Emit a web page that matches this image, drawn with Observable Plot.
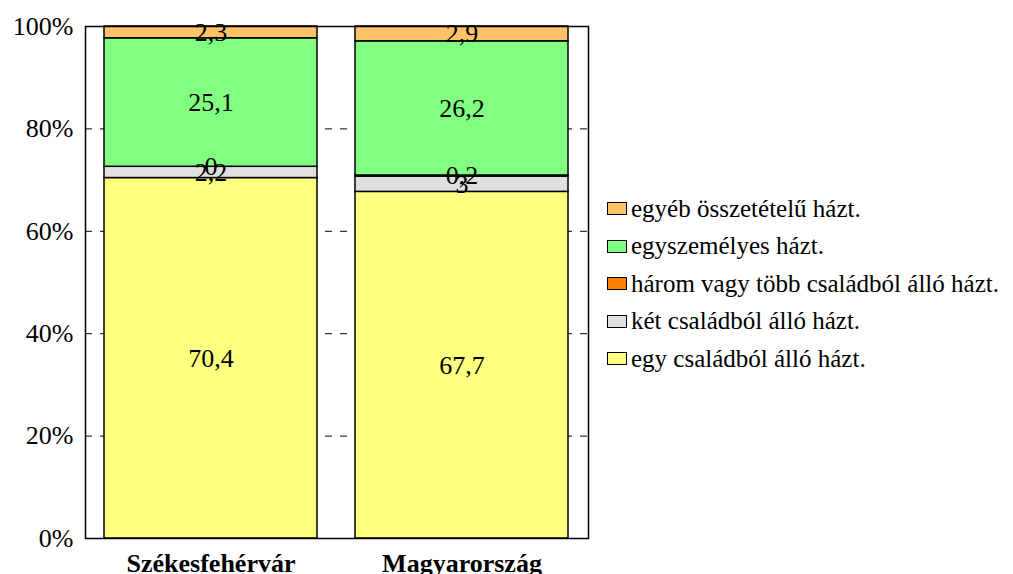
<!DOCTYPE html>
<html>
<head>
<meta charset="utf-8">
<script src="https://cdn.jsdelivr.net/npm/d3@7"></script>
<script src="https://cdn.jsdelivr.net/npm/@observablehq/plot@0.6"></script>
<style>
  body { margin: 0; background: #fff; }
  #wrap { position: relative; width: 1013px; height: 574px; overflow: hidden; font-family: "Liberation Serif", Tinos, "Times New Roman", Times, "DejaVu Serif", serif; }
  #wrap svg text { font-family: "Liberation Serif", Tinos, "Times New Roman", Times, "DejaVu Serif", serif; }
  #legend { position: absolute; left: 607px; top: 190px; font-size: 25px; color: #000; }
  .row { height: 37.5px; display: flex; align-items: center; white-space: nowrap; }
  .sw { width: 20px; height: 13px; border: 1px solid #000; box-sizing: border-box; margin-right: 4px; }
</style>
</head>
<body>
<div id="wrap"><div id="legend"></div></div>
<script>
const categories = ["Székesfehérvár", "Magyarország"];
const series = [
  "egy családból álló házt.",
  "két családból álló házt.",
  "három vagy több családból álló házt.",
  "egyszemélyes házt.",
  "egyéb összetételű házt."
];
const szekesfehervarValues = [70.4, 2.2, 0, 25.1, 2.3];
const magyarorszagValues = [67.7, 3, 0.2, 26.2, 2.9];
const seriesColors = ["#FFFF80", "#E0E0E0", "#FF8000", "#80FF80", "#FFC266"];
const yTicks = [0, 20, 40, 60, 80, 100];
const gridTicks = [20, 40, 60, 80];

const valuesByCategory = [szekesfehervarValues, magyarorszagValues];
const data = [];
categories.forEach((c, i) => {
  series.forEach((s, j) => {
    data.push({category: c, series: s, value: valuesByCategory[i][j]});
  });
});
const fmt = v => String(v).replace(".", ",");
const serif = '"Liberation Serif", Tinos, "Times New Roman", Times, "DejaVu Serif", serif';

const chart = Plot.plot({
  width: 1013,
  height: 574,
  marginLeft: 85,
  marginRight: 425,
  marginTop: 26,
  marginBottom: 36,
  style: {fontFamily: serif, fontSize: "26px", color: "#000", background: "transparent"},
  x: {domain: categories, paddingInner: 0.151, paddingOuter: 0.076, label: null},
  y: {domain: [0, 100], label: null},
  color: {domain: series, range: seriesColors},
  marks: [
    Plot.ruleY(gridTicks, {stroke: "#000", strokeWidth: 1, strokeDasharray: "7,8"}),
    Plot.barY(data, Plot.stackY({x: "category", y: "value", z: "series", fill: "series", order: series, stroke: "#000", strokeWidth: 1.5, inset: 0})),
    Plot.text(data, Plot.stackY({x: "category", y: "value", z: "series", order: series, text: d => fmt(d.value), fill: "#000", fontSize: 26, fontFamily: serif})),
    Plot.frame({stroke: "#000", strokeWidth: 1.5}),
    Plot.axisY({ticks: yTicks, tickFormat: d => d + "%", tickSize: 0, tickPadding: 12, fontSize: 26, fontFamily: serif, label: null}),
    Plot.axisX({tickSize: 0, tickPadding: 15, fontSize: 26, fontWeight: "bold", fontFamily: serif, label: null})
  ]
});
document.getElementById("wrap").prepend(chart);

const legend = document.getElementById("legend");
series.slice().reverse().forEach(s => {
  const row = document.createElement("div");
  row.className = "row";
  const sw = document.createElement("div");
  sw.className = "sw";
  sw.style.background = seriesColors[series.indexOf(s)];
  const t = document.createElement("span");
  t.textContent = s;
  row.appendChild(sw);
  row.appendChild(t);
  legend.appendChild(row);
});
</script>
</body>
</html>
